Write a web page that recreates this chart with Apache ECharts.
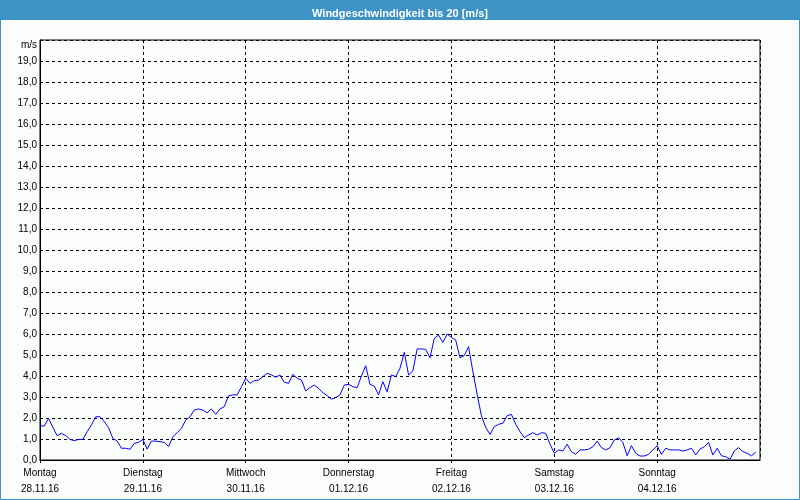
<!DOCTYPE html>
<html>
<head>
<meta charset="utf-8">
<script src="https://cdn.jsdelivr.net/npm/echarts@6/dist/echarts.min.js"></script>
<style>
html,body{margin:0;padding:0;background:#fbfdfb;}
#chart{width:800px;height:500px;}
</style>
</head>
<body>
<div id="chart"></div>
<script>
const titleText = 'Windgeschwindigkeit bis 20 [m/s]';
const unitLabel = 'm/s';
const dayNames = ['Montag','Dienstag','Mittwoch','Donnerstag','Freitag','Samstag','Sonntag'];
const dayDates = ['28.11.16','29.11.16','30.11.16','01.12.16','02.12.16','03.12.16','04.12.16'];
// hourly wind speed (m/s), hour 0 = Montag 00:00
const windSpeed = [
  1.62,1.62,1.98,1.55,1.16,1.27,1.16,0.98,0.92,0.98,0.98,1.35,1.67,2.06,2.06,1.83,1.54,1.03,0.90,0.56,0.56,0.51,0.79,0.84,
  0.98,0.52,0.90,0.90,0.87,0.84,0.64,1.11,1.30,1.50,1.90,2.06,2.38,2.43,2.38,2.25,2.43,2.17,2.43,2.54,3.06,3.10,3.10,3.49,
  3.89,3.65,3.78,3.81,3.97,4.13,4.05,3.94,4.05,3.70,3.65,4.08,3.89,3.81,3.29,3.45,3.57,3.41,3.21,3.06,2.90,2.97,3.10,3.57,
  3.60,3.49,3.45,4.00,4.49,3.60,3.52,3.10,3.73,3.25,4.05,3.97,4.37,5.13,4.05,4.24,5.29,5.29,5.27,4.87,5.79,5.95,5.60,6.00,
  5.83,5.71,4.87,4.97,5.40,4.21,3.13,2.11,1.55,1.22,1.59,1.70,1.75,2.11,2.17,1.70,1.35,1.06,1.19,1.30,1.19,1.30,1.27,0.75,
  0.32,0.48,0.43,0.75,0.40,0.27,0.48,0.48,0.51,0.63,0.90,0.59,0.48,0.59,0.95,1.06,0.84,0.20,0.68,0.32,0.19,0.19,0.27,0.48,
  0.68,0.27,0.56,0.48,0.48,0.48,0.43,0.48,0.56,0.24,0.52,0.63,0.84,0.24,0.56,0.20,0.16,0.03,0.43,0.59,0.40,0.32,0.20,0.37
];
const hoursPerDay = 24;
const yMax = 20;

const chart = echarts.init(document.getElementById('chart'), null, {renderer:'canvas'});
const font = 'Liberation Sans, Arial, sans-serif';
const blue = '#3d93c6';
chart.setOption({
  animation: false,
  backgroundColor: '#fbfdfb',
  title: {
    text: titleText, left: 'center', top: 3,
    textStyle: {color:'#ffffff', fontSize: 11, fontWeight: 'bold', fontFamily: font}
  },
  graphic: [
    {type:'rect', z: -1, shape:{x:0,y:0,width:800,height:20}, style:{fill: blue}},
    {type:'rect', z: -1, shape:{x:0.5,y:0.5,width:799,height:499}, style:{fill:'none', stroke: blue, lineWidth:1}}
  ],
  grid: {left:40, right:40, top:40, bottom:40, show:true, borderColor:'#000', borderWidth:1, backgroundColor:'transparent'},
  xAxis: {
    type:'value', min:0, max: dayNames.length*hoursPerDay, interval: hoursPerDay,
    axisLine:{show:true, lineStyle:{color:'#000', width:1}},
    axisTick:{show:true, length:3, lineStyle:{color:'#000', type:[3,3]}},
    splitLine:{show:true, lineStyle:{color:'#000', type:[3,3], width:1}},
    axisLabel:{
      color:'#000', fontSize:10, fontFamily: font, lineHeight:16, margin:5,
      showMinLabel:true, showMaxLabel:false,
      formatter: function(v){ const i = Math.round(v/hoursPerDay); if (i>=dayNames.length) return ''; return dayNames[i] + '\n' + dayDates[i]; }
    }
  },
  yAxis: {
    type:'value', min:0, max:yMax, interval:1,
    axisLine:{show:true, lineStyle:{color:'#000', width:1}},
    axisTick:{show:false},
    splitLine:{show:true, lineStyle:{color:'#000', type:[3,3], width:1}},
    axisLabel:{
      color:'#000', fontSize:10, fontFamily: font, margin:3,
      formatter: function(v){ return v===yMax ? '{u|' + unitLabel + '}' : v.toFixed(1).replace('.', ','); },
      rich: { u: { fontSize:10, fontFamily: font, color:'#000', padding:[10,0,0,0] } }
    }
  },
  series: [{
    type:'line', symbol:'none', smooth:false,
    lineStyle:{color:'#0000ff', width:1},
    data: windSpeed.map(function(v,i){ return [i, v]; })
  }]
});
</script>
</body>
</html>
